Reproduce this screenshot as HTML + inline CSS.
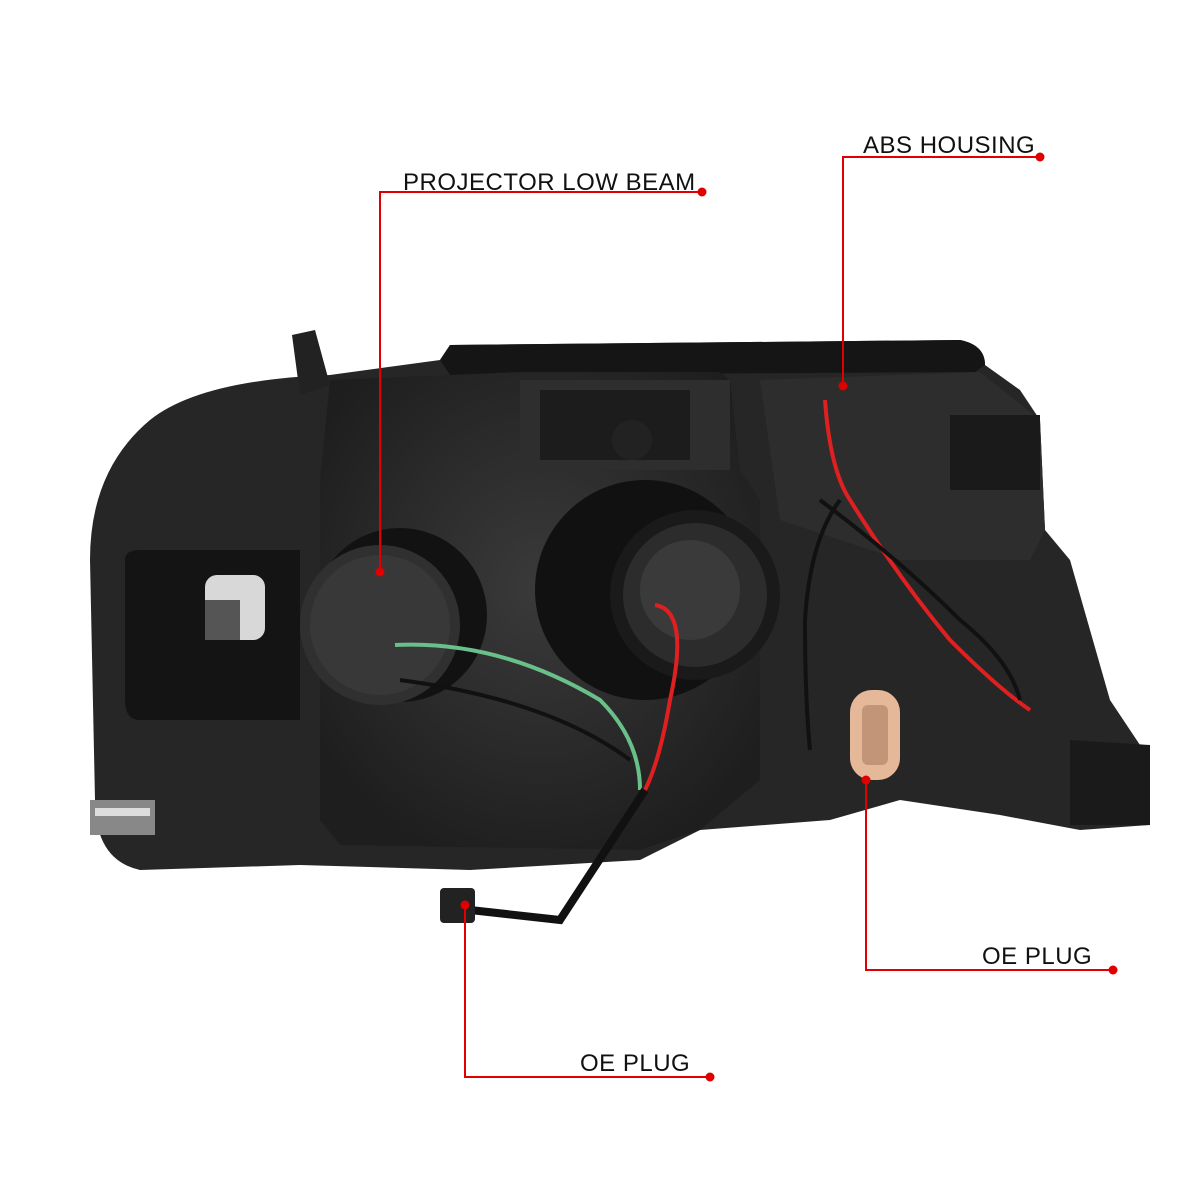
<!DOCTYPE html>
<html><head><meta charset="utf-8"><style>
html,body{margin:0;padding:0;background:#fff;}
svg{display:block}
text{font-family:"Liberation Sans",sans-serif;fill:#111;font-size:24px;letter-spacing:0.5px}
</style></head><body>
<svg width="1200" height="1200" viewBox="0 0 1200 1200" xmlns="http://www.w3.org/2000/svg">
<defs>
<radialGradient id="g1" cx="50%" cy="45%" r="60%"><stop offset="0" stop-color="#3a3a3a"/><stop offset="1" stop-color="#1e1e1e"/></radialGradient>
</defs>
<!-- main housing -->
<path d="M150 420 Q200 380 330 375 L440 360 L450 345 L960 340 Q985 345 985 365 L1020 390 L1040 420 L1045 530 L1070 560 L1110 700 L1150 760 L1150 825 L1080 830 L1000 815 L900 800 L830 820 L700 830 L640 860 L470 870 L300 865 L140 870 Q95 860 95 800 L90 560 Q90 470 150 420 Z" fill="#262626"/>
<!-- top rim -->
<path d="M440 360 L450 345 L960 340 Q985 345 985 365 L975 372 L450 375 Z" fill="#151515"/>
<!-- left pocket -->
<path d="M125 560 Q125 550 140 550 L300 550 L300 720 L140 720 Q125 720 125 700 Z" fill="#141414"/>
<!-- raised middle block -->
<path d="M320 480 L330 380 L520 372 L720 372 L730 380 L740 470 L760 500 L760 780 L700 830 L640 850 L340 845 L320 820 Z" fill="url(#g1)"/>
<path d="M520 380 L730 380 L730 470 L520 470 Z" fill="#2e2e2e"/>
<rect x="540" y="390" width="150" height="70" fill="#1c1c1c"/>
<circle cx="632" cy="440" r="20" fill="#222"/>
<!-- projector -->
<circle cx="400" cy="615" r="87" fill="#121212"/>
<circle cx="380" cy="625" r="80" fill="#303030"/>
<circle cx="380" cy="625" r="70" fill="#383838"/>
<!-- right round socket -->
<circle cx="645" cy="590" r="110" fill="#111"/>
<circle cx="695" cy="595" r="85" fill="#1a1a1a"/>
<circle cx="695" cy="595" r="72" fill="#2c2c2c"/>
<circle cx="690" cy="590" r="50" fill="#3a3a3a"/>
<!-- right section -->
<path d="M760 380 L980 372 L1040 420 L1045 530 L1030 560 L900 560 L780 520 Z" fill="#2d2d2d"/>
<path d="M950 415 L1040 415 L1040 490 L950 490 Z" fill="#1a1a1a"/>
<path d="M1070 740 L1150 745 L1150 825 L1070 825 Z" fill="#1a1a1a"/>
<!-- left bulb socket -->
<rect x="205" y="575" width="60" height="65" rx="12" fill="#d8d8d8"/>
<rect x="205" y="600" width="35" height="40" fill="#555"/>
<!-- chrome clip -->
<rect x="90" y="800" width="65" height="35" fill="#888"/>
<rect x="95" y="808" width="55" height="8" fill="#ddd"/>
<!-- tabs -->
<path d="M292 335 L315 330 L330 385 L300 395 Z" fill="#222"/>
<!-- wires -->
<path d="M395 645 Q500 640 600 700 Q640 740 640 790" stroke="#6ac08a" stroke-width="4" fill="none"/>
<path d="M400 680 Q550 700 630 760" stroke="#111" stroke-width="4" fill="none"/>
<path d="M655 605 Q690 610 670 700 Q660 760 645 790" stroke="#e02020" stroke-width="4" fill="none"/>
<path d="M645 790 L560 920 L470 910" stroke="#111" stroke-width="8" fill="none"/>
<rect x="440" y="888" width="35" height="35" rx="4" fill="#222"/>
<path d="M825 400 Q830 470 850 500 Q900 580 950 640 Q1000 690 1030 710" stroke="#e02020" stroke-width="4" fill="none"/>
<path d="M840 500 Q810 540 805 620 Q805 700 810 750" stroke="#111" stroke-width="4" fill="none"/>
<path d="M820 500 Q900 560 960 620 Q1010 660 1020 700" stroke="#111" stroke-width="4" fill="none"/>
<!-- OE plug (right) -->
<rect x="850" y="690" width="50" height="90" rx="22" fill="#e6b89a"/>
<rect x="862" y="705" width="26" height="60" rx="6" fill="#c29478"/>
<!-- labels -->
<g stroke="#e00000" stroke-width="2" fill="none">
<path d="M702 192 L380 192 L380 572"/>
<path d="M1040 157 L843 157 L843 386"/>
<path d="M1113 970 L866 970 L866 780"/>
<path d="M710 1077 L465 1077 L465 905"/>
</g>
<g fill="#e00000">
<circle cx="702" cy="192" r="4.5"/><circle cx="380" cy="572" r="4.5"/>
<circle cx="1040" cy="157" r="4.5"/><circle cx="843" cy="386" r="4.5"/>
<circle cx="1113" cy="970" r="4.5"/><circle cx="866" cy="780" r="4.5"/>
<circle cx="710" cy="1077" r="4.5"/><circle cx="465" cy="905" r="4.5"/>
</g>
<text x="403" y="190">PROJECTOR LOW BEAM</text>
<text x="863" y="153">ABS HOUSING</text>
<text x="982" y="964">OE PLUG</text>
<text x="580" y="1071">OE PLUG</text>
</svg>
</body></html>
